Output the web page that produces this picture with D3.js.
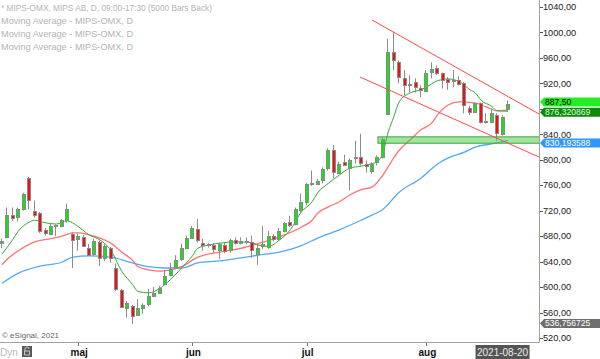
<!DOCTYPE html>
<html><head><meta charset="utf-8">
<script src="https://cdn.jsdelivr.net/npm/d3@7"></script>
<style>
html,body{margin:0;padding:0;background:#fff;overflow:hidden;}
svg{display:block;font-family:"Liberation Sans",Arial,sans-serif;}
</style></head><body>
<script>
// ---- data ----
const opens  = [669,679,714,709,723,772,720,717,689,684,695,696,706,684,675,679,662,652,671,646,662,630,596,567,570,556,567,573,586,590,606,619,630,644,662,678,691,670,666,666,657,666,658,674,670,673,671,652,665,662,680,676,688,703,700,720,733,762,763,769,786,815,780,797,788,802,804,793,783,796,804,873,969,953,928,918,922,912,909,937,944,936,927,925,926,920,882,875,889,860,859,870,841,880];
const highs  = [676,725,725,725,748,773,736,718,693,700,698,707,731,686,684,682,668,676,673,667,663,637,597,578,572,581,574,597,600,602,627,638,650,668,681,696,707,676,669,669,670,669,676,678,678,678,681,668,696,688,683,693,702,712,725,747,764,783,770,788,818,823,797,808,802,830,841,799,796,807,835,990,1000,956,941,933,928,917,941,953,948,937,930,941,931,922,885,890,890,873,881,873,870,893];
const lows   = [661,678,704,703,720,722,709,685,681,682,680,694,701,630,657,663,649,649,633,641,638,594,567,552,542,555,558,570,584,589,603,617,628,641,660,676,670,657,662,654,644,653,654,667,667,667,646,635,660,660,672,673,686,694,697,717,728,759,761,763,783,771,778,791,752,794,791,780,778,791,802,870,941,920,901,906,906,898,906,928,933,912,910,914,917,873,870,873,857,857,857,830,838,875];
const closes = [672,714,709,722,747,737,714,689,684,696,697,705,723,674,680,665,651,673,646,665,646,597,569,575,555,567,572,586,590,598,618,629,643,662,677,693,673,667,667,660,667,656,674,670,673,673,659,662,668,680,676,688,700,699,723,733,762,763,767,786,815,780,794,793,800,804,794,790,794,804,833,970,956,930,917,919,914,909,937,942,936,925,923,926,920,886,875,889,859,861,873,841,867,887.5];

const monthTickIdx = [14,35,56,78];
const monthLabels  = ["maj","jun","jul","aug"];
const priceTicks   = [520,560,600,640,680,720,760,800,840,880,920,960,1000,1040];

const maFastIdx = [0,2,3,5,6,8,10,12,14,16,18,20,22,24,25,27,29,31,33,35,36,38,40,43,46,47,49,51,53,55,57,58,60,62,64,66,68,69,70,71,72,73,75,77,78,80,82,84,85,86,87,88,90,91,93];
const maFastVal = [652,675,688,702,705,701,699,704,695,682,674,658,625,604,593,591,598,612,630,649,661,666,669,671,670,666,664,674,690,718,734,748,763,776,787,790,794,797,811,844,867,891,905,910,914,924,927,923,917,910,905,894,884,877,876.32];
const maMidIdx  = [0,1,3,6,9,11,13,14,16,18,20,22,24,25,27,29,31,33,36,40,44,47,51,55,57,58,60,62,64,66,68,70,72,73,75,77,79,80,82,84,87,89,91,93];
const maMidVal  = [635,644,657,671,676,680,685,685,682,677,669,655,642,632,627,625,627,632,647,655,661,668,679,694,705,716,726,734,745,753,757,776,803,815,831,847,858,870,886,891,889,883,877,878];
const maSlowIdx = [0,3,7,11,13,16,20,24,27,30,33,36,40,44,47,51,55,58,62,66,68,70,73,77,80,82,85,87,90,93];
const maSlowVal = [606,622,633,639,647,649,647,638,632,630,630,638,641,646,650,655,665,677,690,705,713,722,749,771,793,803,812,820,825,830.19];

const trendUpper = [[68,1019.6],[98.7,871.9]];
const trendLower = [[65.8,930],[98.7,804.3]];
const supportZone = {startIdx:69.1, low:826, high:836};

const lastPrice = 887.50, lastFast = 876.320869, lastSlow = 830.193588, lastOther = 536.756725;
const dateLabel = "2021-08-20", dateLabelIdx = 92;

const legendLines = ["* MIPS-OMX, MIPS AB, D, 09:00-17:30 (5000 Bars Back)",
  "Moving Average - MIPS-OMX, D","Moving Average - MIPS-OMX, D","Moving Average - MIPS-OMX, D"];

// ---- layout ----
const W = 600, H = 359, plotR = 539, plotB = 342;
const svg = d3.select("body").append("svg").attr("width",W).attr("height",H);
const x = d3.scaleLinear().domain([0,93]).range([2,508]);
const y = d3.scaleLinear().domain([520,1040]).range([338,7]);

svg.append("defs").append("clipPath").attr("id","plot")
  .append("rect").attr("x",0).attr("y",0).attr("width",plotR).attr("height",plotB);
const plot = svg.append("g").attr("clip-path","url(#plot)");

// legend
const lg = svg.append("g").selectAll("text").data(legendLines).join("text")
  .attr("x",1).attr("y",(d,i)=>10.5+i*13.2).attr("font-size",9.2).attr("fill","#b4b4b4").text(d=>d);
lg.filter((d,i)=>i===0).attr("textLength",211).attr("lengthAdjust","spacingAndGlyphs");

// moving averages
const line = d3.line().curve(d3.curveMonotoneX).x(d=>x(d[0])).y(d=>y(d[1]));
const zip = (a,b)=>a.map((v,i)=>[v,b[i]]);
plot.append("path").attr("d",line(zip(maSlowIdx,maSlowVal))).attr("fill","none").attr("stroke","#3d9ef8").attr("stroke-width",1.3).attr("stroke-opacity",0.9);
plot.append("path").attr("d",line(zip(maMidIdx,maMidVal))).attr("fill","none").attr("stroke","#ff5a5a").attr("stroke-width",1.3).attr("stroke-opacity",0.85);
plot.append("path").attr("d",line(zip(maFastIdx,maFastVal))).attr("fill","none").attr("stroke","#33a833").attr("stroke-width",1);

// candles
const idx = d3.range(opens.length);
const cg = plot.append("g");
cg.selectAll("line").data(idx).join("line")
  .attr("x1",i=>Math.round(x(i))-0.5).attr("x2",i=>Math.round(x(i))-0.5)
  .attr("y1",i=>y(highs[i])).attr("y2",i=>y(lows[i]))
  .attr("stroke","#8c8c8c").attr("stroke-width",1);
cg.selectAll("rect").data(idx).join("rect")
  .attr("x",i=>Math.round(x(i))-1.5).attr("width",3)
  .attr("y",i=>Math.round(y(Math.max(opens[i],closes[i])))+0.5)
  .attr("height",i=>Math.max(1,Math.round(Math.abs(y(opens[i])-y(closes[i])))))
  .attr("fill",i=>closes[i]>=opens[i]?"#13e313":"#ee1111")
  .attr("stroke","#8a8a8a").attr("stroke-width",1);

// support zone
plot.append("rect").attr("x",x(supportZone.startIdx)).attr("width",plotR-x(supportZone.startIdx)+2)
  .attr("y",y(supportZone.high)).attr("height",y(supportZone.low)-y(supportZone.high))
  .attr("fill","rgba(70,200,70,0.5)").attr("stroke","#3aa83a").attr("stroke-width",1);

// trend lines
[trendUpper,trendLower].forEach(t=>{
  plot.append("line").attr("x1",x(t[0][0])).attr("y1",y(t[0][1])).attr("x2",x(t[1][0])).attr("y2",y(t[1][1]))
    .attr("stroke","#ff4a4a").attr("stroke-width",1);
});

// axes frame
svg.append("line").attr("x1",plotR+0.5).attr("x2",plotR+0.5).attr("y1",0).attr("y2",plotB+0.5).attr("stroke","#a0a0a0");
svg.append("line").attr("x1",0).attr("x2",plotR+0.5).attr("y1",plotB+0.5).attr("y2",plotB+0.5).attr("stroke","#a0a0a0");

// price tag positions
const tags = [
  {cy:Math.min(y(lastOther),plotB-18.5), txt:d3.format(".6f")(lastOther).replace(".",","), bg:"#6e6e6e", fg:"#fff"},
  {cy:y(lastSlow)+2.5, txt:d3.format(".6f")(lastSlow).replace(".",","), bg:"#2f97fb", fg:"#fff"},
  {cy:y(lastFast)+1, txt:d3.format(".6f")(lastFast).replace(".",","), bg:"#0d8a0d", fg:"#dfffdf"},
  {cy:y(lastPrice)-2, txt:d3.format(".2f")(lastPrice).replace(".",","), bg:"#22ee22", fg:"#000"}
];

// right axis (tick labels hidden where a price tag covers them)
const fmt = v=>d3.format(".2f")(v).replace(".",",");
const ra = svg.append("g");
priceTicks.forEach(p=>{
  ra.append("line").attr("x1",plotR+1).attr("x2",plotR+4).attr("y1",Math.round(y(p))+0.5).attr("y2",Math.round(y(p))+0.5).attr("stroke","#555");
  const covered = tags.some(t=>Math.abs(t.cy-y(p))<6);
  if(!covered) ra.append("text").attr("x",plotR+4).attr("y",y(p)).attr("dy","0.35em").attr("font-size",9.2).attr("fill","#222").text(fmt(p));
});
svg.append("rect").attr("x",plotR+1).attr("y",plotB+1).attr("width",W).attr("height",20).attr("fill","#fff");

tags.forEach(t=>{
  const g = svg.append("g"), cy=t.cy;
  g.append("path").attr("d",`M${plotR+1},${cy} L${plotR+5},${cy-4.5} L${W},${cy-4.5} L${W},${cy+4.5} L${plotR+5},${cy+4.5} Z`).attr("fill",t.bg);
  g.append("text").attr("x",plotR+6).attr("y",cy).attr("dy","0.34em").attr("font-size",8.6).attr("fill",t.fg).text(t.txt);
});

// bottom axis
monthTickIdx.forEach((m,k)=>{
  svg.append("line").attr("x1",Math.round(x(m))+0.5).attr("x2",Math.round(x(m))+0.5).attr("y1",plotB+1).attr("y2",plotB+4).attr("stroke","#777");
  svg.append("text").attr("x",x(m)+1).attr("y",356).attr("text-anchor","middle").attr("font-size",10).attr("font-weight","bold").attr("fill","#111").text(monthLabels[k]);
});
svg.append("text").attr("x",2).attr("y",338).attr("font-size",8).attr("fill","#666").text("\u00a9 eSignal, 2021");
svg.append("text").attr("x",0).attr("y",356).attr("font-size",10).attr("fill","#bbb").text("Dyn");
svg.append("rect").attr("x",22).attr("y",346).attr("width",10).attr("height",11).attr("fill","#5a5a5a");
svg.append("path").attr("d","M25,351 v-2 a2,2 0 0 1 4,0 M24.5,351 h5 v4 h-5 z").attr("fill","none").attr("stroke","#ddd").attr("stroke-width",0.8);
const dl = svg.append("g");
const dx = x(dateLabelIdx);
dl.append("rect").attr("x",dx-27).attr("y",345).attr("width",54).attr("height",14).attr("fill","#555");
dl.append("text").attr("x",dx).attr("y",356).attr("text-anchor","middle").attr("font-size",10).attr("fill","#eee").text(dateLabel);
</script>
</body></html>
